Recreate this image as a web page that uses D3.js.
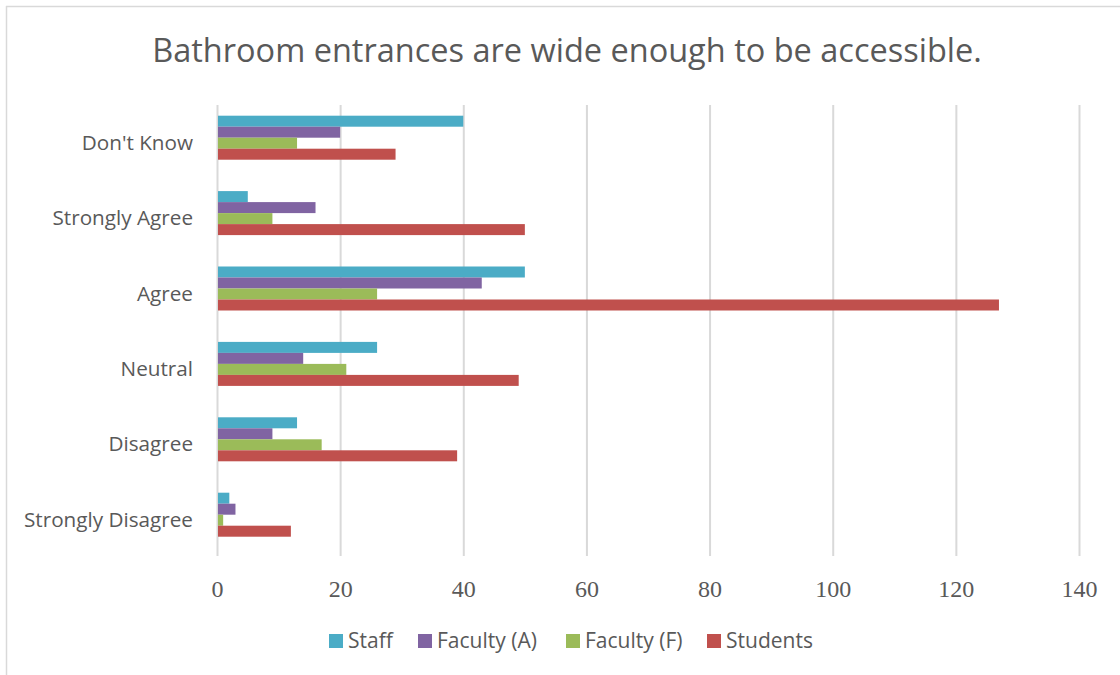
<!DOCTYPE html>
<html>
<head>
<meta charset="utf-8">
<script src="https://cdn.jsdelivr.net/npm/d3@7"></script>
<style>
  html, body { margin: 0; padding: 0; background: #fff; }
  svg { display: block; }
</style>
</head>
<body>
<svg id="chart" width="1120" height="675"></svg>
<script>
const categories = ["Strongly Disagree", "Disagree", "Neutral", "Agree", "Strongly Agree", "Don't Know"];
const seriesNames = ["Staff", "Faculty (A)", "Faculty (F)", "Students"];
const seriesColors = ["#4bacc6", "#8064a2", "#9bbb59", "#c0504d"];
const staff    = [2, 13, 26, 50, 5, 40];
const facultyA = [3, 9, 14, 43, 16, 20];
const facultyF = [1, 17, 21, 26, 9, 13];
const students = [12, 39, 49, 127, 50, 29];
const tickValues = [0, 20, 40, 60, 80, 100, 120, 140];
const title = "Bathroom entrances are wide enough to be accessible.";

const seriesValues = [staff, facultyA, facultyF, students];

const svg = d3.select("#chart");
const W = 1120, H = 675;
const plot = { left: 217, right: 1079, top: 100, bottom: 552.4, gridTop: 105, gridBottom: 556 };

// chart frame (left & top visible)
svg.append("line").attr("x1", 6.5).attr("x2", 6.5).attr("y1", 6).attr("y2", H)
  .attr("stroke", "#d9d9d9").attr("stroke-width", 1.5);
svg.append("line").attr("x1", 6).attr("x2", W).attr("y1", 6.5).attr("y2", 6.5)
  .attr("stroke", "#d9d9d9").attr("stroke-width", 1.5);

// title
svg.append("text").attr("x", 567).attr("y", 62).attr("text-anchor", "middle")
  .attr("font-family", "'Open Sans', 'Noto Sans', sans-serif").attr("font-size", 32.5)
  .attr("fill", "#595959").text(title);

const x = d3.scaleLinear().domain([0, 140]).range([plot.left, plot.right]);
// categories bottom-to-top (Excel reversed order)
const y = d3.scaleBand().domain(categories.slice().reverse()).range([plot.top, plot.bottom])
  .paddingInner(0.4164).paddingOuter(0.2082);
const ySub = d3.scaleBand().domain(seriesNames).range([0, y.bandwidth()]);

// gridlines
const grid = svg.append("g")
  .attr("transform", `translate(0,${plot.gridBottom})`)
  .call(d3.axisBottom(x).tickValues(tickValues).tickSize(-(plot.gridBottom - plot.gridTop)).tickFormat(""));
grid.select(".domain").remove();
grid.selectAll(".tick line").attr("stroke", "#d9d9d9").attr("stroke-width", 2);

// bars
const data = [];
categories.forEach((c, ci) => {
  seriesNames.forEach((s, si) => {
    data.push({ cat: c, series: s, value: seriesValues[si][ci], color: seriesColors[si] });
  });
});
svg.append("g").selectAll("rect").data(data).join("rect")
  .attr("x", x(0) + 1)
  .attr("y", d => y(d.cat) + ySub(d.series))
  .attr("width", d => Math.max(0, x(d.value) - x(0) - 1))
  .attr("height", ySub.bandwidth())
  .attr("fill", d => d.color);

// x tick labels
const xAxis = svg.append("g")
  .attr("transform", `translate(0,${plot.gridBottom})`)
  .call(d3.axisBottom(x).tickValues(tickValues).tickSize(0).tickPadding(0));
xAxis.select(".domain").remove();
xAxis.selectAll("text")
  .attr("y", 41).attr("dy", null)
  .attr("font-family", "'Liberation Serif', 'DejaVu Serif', serif")
  .attr("font-size", 24).attr("fill", "#595959");

// y labels
const yAxis = svg.append("g")
  .attr("transform", `translate(${plot.left},5.5)`)
  .call(d3.axisLeft(y).tickSize(0).tickPadding(24));
yAxis.select(".domain").remove();
yAxis.selectAll("text")
  .attr("font-family", "'Open Sans', 'Noto Sans', sans-serif")
  .attr("font-size", 20.7).attr("fill", "#595959");

// legend
const legendX = [329, 418, 566, 707];
const leg = svg.append("g").selectAll("g").data(seriesNames).join("g")
  .attr("transform", (d, i) => `translate(${legendX[i]},634)`);
leg.append("rect").attr("width", 14).attr("height", 14).attr("fill", (d, i) => seriesColors[i]);
leg.append("text").attr("x", 19).attr("y", 13.5)
  .attr("font-family", "'Open Sans', 'Noto Sans', sans-serif")
  .attr("font-size", 21).attr("fill", "#595959").text(d => d);
</script>
</body>
</html>
